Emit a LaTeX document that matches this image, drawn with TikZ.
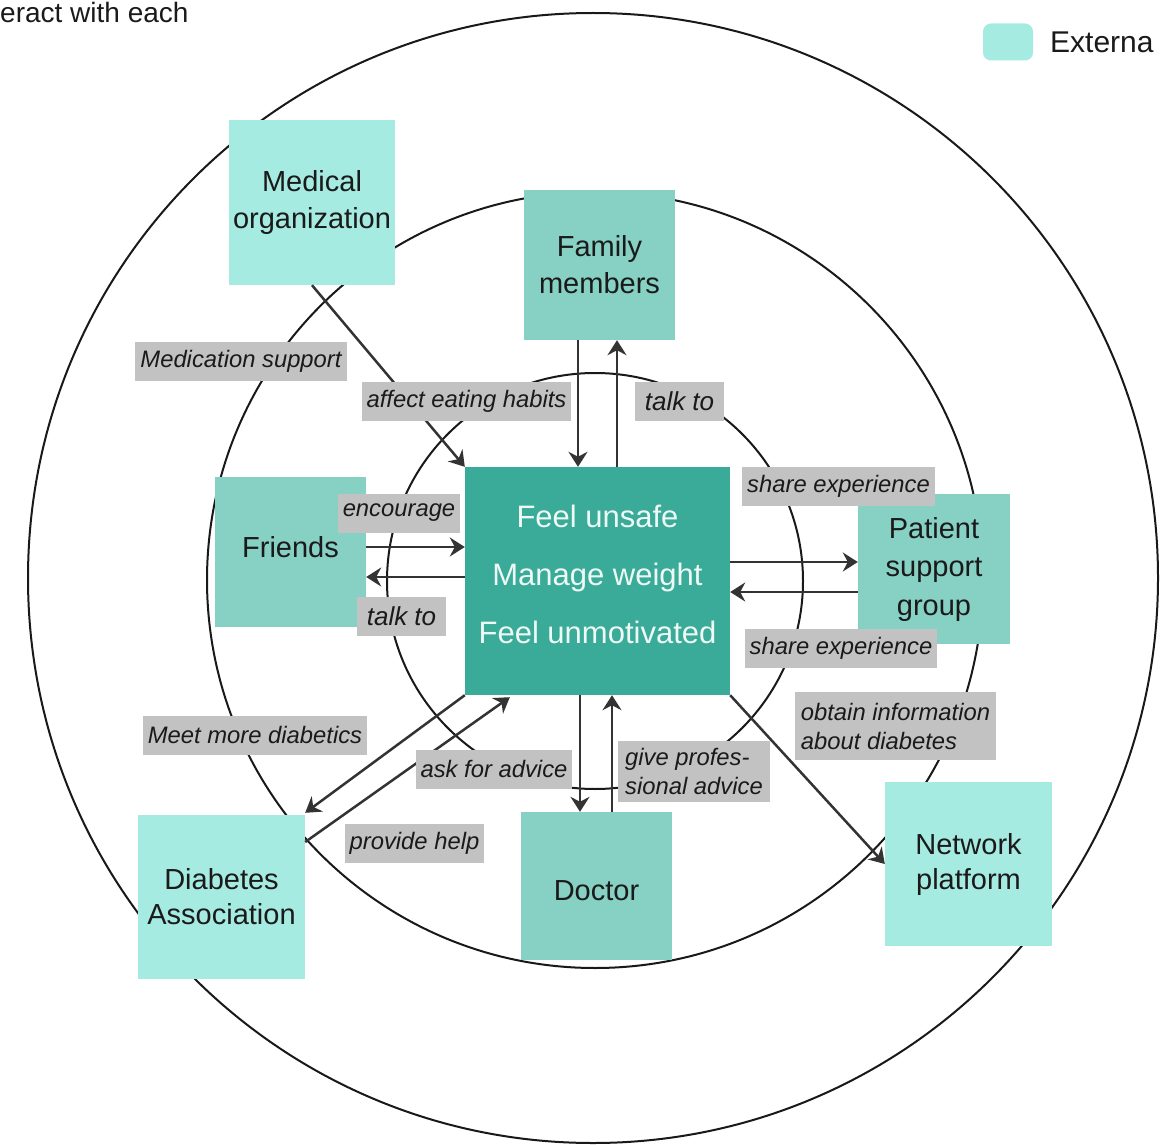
\documentclass[tikz,border=0pt]{standalone}
\usepackage{fontspec}
\setmainfont{Liberation Sans}
\usetikzlibrary{arrows.meta}
\definecolor{core}{HTML}{3AAB98}
\definecolor{mid}{HTML}{86D0C4}
\definecolor{ext}{HTML}{A6EBE1}
\definecolor{lbl}{HTML}{C2C2C2}
\definecolor{ink}{HTML}{1A1A1A}
\definecolor{arrc}{HTML}{333333}
\definecolor{coretext}{HTML}{EEF9F6}
\begin{document}
\begin{tikzpicture}[x=1pt,y=-1pt,
  ring/.style={draw=black!90, line width=2pt},
  box/.style={inner sep=0pt, align=center, text=ink, font=\fontsize{29}{37}\selectfont},
  midbox/.style={box, fill=mid, minimum width=151pt, minimum height=150pt},
  extbox/.style={box, fill=ext, minimum width=166pt, minimum height=165pt},
  lab/.style={fill=lbl, inner xsep=5pt, inner ysep=0pt, minimum height=39pt, text=ink,
    font=\fontsize{23.8}{29}\selectfont\itshape, align=left},
  arr/.style={draw=arrc, line width=2.5pt, -{Stealth[length=15pt,width=19pt,inset=5pt]}}]
\useasboundingbox (0,0) rectangle (1160,1145);

% rings
\draw[ring] (593,578) circle[radius=565pt];
\draw[ring] (595,580) circle[radius=388pt];
\draw[ring] (595,581) circle[radius=208pt];

% header fragments
\node[anchor=base west, inner sep=0pt, text=ink, font=\fontsize{28}{34}\selectfont] (hdr) at (0,23) {eract with each};
\node[fill=ext, rounded corners=8pt, minimum width=50pt, minimum height=37pt, inner sep=0pt] (legsw) at (1008,42) {};
\node[anchor=base west, inner sep=0pt, text=ink, font=\fontsize{30}{36}\selectfont] (legtx) at (1050,53) {Externa};

% nodes
\node[fill=core, minimum width=265pt, minimum height=228pt, inner sep=0pt] (ctr) at (597.5,581) {};
\node[inner sep=0pt, align=center, text=coretext, font=\fontsize{31}{58}\selectfont] (ctrtxt)
      at ([yshift=7pt]ctr.center) {Feel unsafe\\Manage weight\\Feel unmotivated};
\node[midbox] (fam) at (599.5,265) {Family\\members};
\node[extbox] (med) at (312,202.5) {Medical\\organization};
\node[midbox] (fri) at (290.5,552) {\raisebox{5pt}[\height][\depth]{Friends}};
\node[midbox, minimum width=152pt, font=\fontsize{29}{38.5}\selectfont] (pat) at (934,569) {Patient\\support\\group};
\node[extbox, minimum width=167pt, minimum height=164pt, font=\fontsize{29}{35}\selectfont] (dia) at (221.5,897) {Diabetes\\Association};
\node[midbox, minimum height=148pt] (doc) at (596.5,886) {\raisebox{-5pt}[\height][\depth]{Doctor}};
\node[extbox, minimum width=167pt, minimum height=164pt, font=\fontsize{29}{35}\selectfont] (net) at (968.5,864) {Network\\platform};

% connectors
\draw[arr] ([xshift=-21.5pt]fam.south) -- ([xshift=-19.5pt]ctr.north);
\draw[arr] ([xshift=19.5pt]ctr.north) -- ([xshift=17.5pt]fam.south);
\draw[arr] ([yshift=5pt]fri.east) -- ([yshift=34pt]ctr.west);
\draw[arr] ([yshift=4pt]ctr.west) -- ([yshift=-25pt]fri.east);
\draw[arr] ([yshift=19pt]ctr.east) -- ([yshift=7pt]pat.west);
\draw[arr] ([yshift=-23pt]pat.west) -- ([yshift=-11pt]ctr.east);
\draw[arr] ([xshift=-17.5pt]ctr.south) -- ([xshift=-16.5pt]doc.north);
\draw[arr] ([xshift=15.5pt]doc.north) -- ([xshift=14.5pt]ctr.south);
\draw[arr] (med.south) -- (ctr.north west);
\draw[arr] (ctr.south west) -- ([yshift=2pt]dia.north east);
\draw[arr] ([yshift=55pt]dia.east) -- ([xshift=45pt,yshift=-2pt]ctr.south west);
\draw[arr] (ctr.south east) -- (net.west);

% labels
\node[lab, minimum width=212pt] (l1) at (241,361) {Medication support};
\node[lab, minimum width=209pt] (l2) at (466.5,401) {affect eating habits};
\node[lab, minimum width=89pt, font=\fontsize{26}{30}\selectfont\itshape] (l3) at (679.5,401) {talk to};
\node[lab, minimum width=122pt] (l4) at (399,513) {encourage};
\node[lab, minimum width=89pt, font=\fontsize{26}{30}\selectfont\itshape] (l5) at (401.5,616) {talk to};
\node[lab, minimum width=193pt] (l6) at (838.5,486) {share experience};
\node[lab, minimum width=192pt] (l7) at (841,648) {share experience};
\node[lab, minimum height=68pt, minimum width=201pt] (l8) at (895.5,726) {obtain information\\about diabetes};
\node[lab, minimum width=224pt] (l9) at (255,735) {Meet more diabetics};
\node[lab, minimum width=156pt] (l10) at (494,769) {ask for advice};
\node[lab, minimum height=61pt, minimum width=152pt] (l11) at (694,771.5) {give profes-\\sional advice};
\node[lab, minimum width=139pt] (l12) at (414.5,843) {provide help};
\end{tikzpicture}
\end{document}
